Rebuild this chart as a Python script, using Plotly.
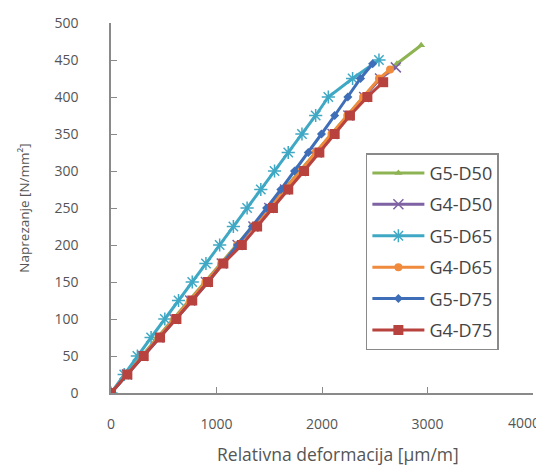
import plotly.graph_objects as go

# Series data: stress [N/mm2] vs strain [um/m]
names = ["G5-D50", "G4-D50", "G5-D65", "G4-D65", "G5-D75", "G4-D75"]

g5d50_strain = [0, 145, 290, 440, 590, 740, 890, 1040, 1190, 1340, 1490, 1640, 1790, 1940, 2090, 2240, 2390, 2550, 2710, 2940]
g5d50_stress = [0, 25, 50, 75, 100, 125, 150, 175, 200, 225, 250, 275, 300, 325, 350, 375, 400, 425, 445, 470]

g4d50_strain = [0, 150, 300, 450, 600, 750, 900, 1050, 1200, 1350, 1500, 1650, 1800, 1950, 2100, 2250, 2400, 2550, 2700]
g4d50_stress = [0, 25, 50, 75, 100, 125, 150, 175, 200, 225, 250, 275, 300, 325, 350, 375, 400, 425, 440]

g5d65_strain = [0, 125, 250, 380, 510, 640, 770, 900, 1030, 1160, 1290, 1420, 1550, 1680, 1810, 1940, 2060, 2290, 2540]
g5d65_stress = [0, 25, 50, 75, 100, 125, 150, 175, 200, 225, 250, 275, 300, 325, 350, 375, 400, 425, 450]

g4d65_strain = [0, 150, 300, 450, 600, 750, 895, 1045, 1195, 1345, 1495, 1645, 1795, 1940, 2090, 2240, 2390, 2540, 2645]
g4d65_stress = [0, 25, 50, 75, 100, 125, 150, 175, 200, 225, 250, 275, 300, 325, 350, 375, 400, 425, 437]

g5d75_strain = [0, 155, 310, 465, 620, 770, 920, 1060, 1200, 1340, 1475, 1610, 1740, 1870, 1995, 2120, 2245, 2365, 2480]
g5d75_stress = [0, 25, 50, 75, 100, 125, 150, 175, 200, 225, 250, 275, 300, 325, 350, 375, 400, 425, 445]

g4d75_strain = [0, 155, 310, 465, 620, 770, 920, 1065, 1240, 1385, 1535, 1680, 1830, 1975, 2120, 2265, 2430, 2580]
g4d75_stress = [0, 25, 50, 75, 100, 125, 150, 175, 200, 225, 250, 275, 300, 325, 350, 375, 400, 420]

x_ticks = [0, 1000, 2000, 3000, 4000]
x_tick_labels = ["0", "1000", "2000", "3000", "4000"]
y_ticks = [0, 50, 100, 150, 200, 250, 300, 350, 400, 450, 500]

xs = [g5d50_strain, g4d50_strain, g5d65_strain, g4d65_strain, g5d75_strain, g4d75_strain]
ys = [g5d50_stress, g4d50_stress, g5d65_stress, g4d65_stress, g5d75_stress, g4d75_stress]
colors = ["#8DB352", "#7E62A3", "#3FA8C4", "#F08A3C", "#3F6EB8", "#B8423D"]
symbols = ["triangle-up", "x-thin-open", "asterisk-open", "circle", "diamond", "square"]
sizes = [7, 10, 11, 8, 7, 10]

fig = go.Figure()
for i, n in enumerate(names):
    openm = symbols[i].endswith("open")
    fig.add_trace(go.Scatter(
        x=xs[i], y=ys[i], name=n, mode="lines+markers",
        legendgroup=n,
        line=dict(color=colors[i], width=3),
        marker=dict(symbol=symbols[i], size=sizes[i], color=colors[i],
                    line=dict(color=colors[i], width=1.5 if openm else 0)),
    ))

# the last x tick label sits shifted left of its tick (fits inside the page)
shown_x_labels = x_tick_labels[:-1] + [""]
annotations = [
    dict(text="Relativna deformacija [µm/m]", xref="paper", yref="paper",
         x=(330 - 103) / 422, y=-0.165, xanchor="center", yanchor="middle",
         showarrow=False, font=dict(size=17.5, color="#555555")),
    dict(text=x_tick_labels[-1], xref="paper", yref="paper",
         x=(516 - 103) / 422, y=(385 - 414) / 370, xanchor="center", yanchor="middle",
         showarrow=False, font=dict(size=14, color="#555555")),
]

font_fam = "Open Sans, Noto Sans, sans-serif"
fig.update_layout(
    width=536, height=460,
    margin=dict(l=103, r=11, t=15, b=75, autoexpand=False),
    paper_bgcolor="white", plot_bgcolor="white",
    font=dict(family=font_fam, color="#555555", size=14),
    showlegend=True,
    legend=dict(x=0.604, y=0.648, xanchor="left", yanchor="top",
                bordercolor="#8a8a8a", borderwidth=1.5, bgcolor="white",
                font=dict(size=18, color="#444444"), tracegroupgap=5,
                itemwidth=52),
    xaxis=dict(range=[0, 4000], tickvals=x_ticks, ticktext=shown_x_labels,
               showgrid=False, zeroline=False,
               automargin=False,
               showline=True, linecolor="#8a8a8a", linewidth=1.5,
               ticks="inside", ticklen=6, tickcolor="#8a8a8a",
               ticklabelstandoff=17,
               tickfont=dict(size=14, color="#555555")),
    yaxis=dict(range=[0, 500], tickvals=y_ticks, showgrid=False, zeroline=False,
               automargin=False,
               showline=True, linecolor="#8a8a8a", linewidth=1.5,
               ticks="inside", ticklen=6, tickcolor="#8a8a8a",
               ticklabelstandoff=28,
               tickfont=dict(size=14, color="#555555"),
               title=dict(text="Naprezanje [N/mm²]", standoff=22,
                          font=dict(size=13.5, color="#555555"))),
    annotations=annotations,
)

fig.write_html("out.html")
